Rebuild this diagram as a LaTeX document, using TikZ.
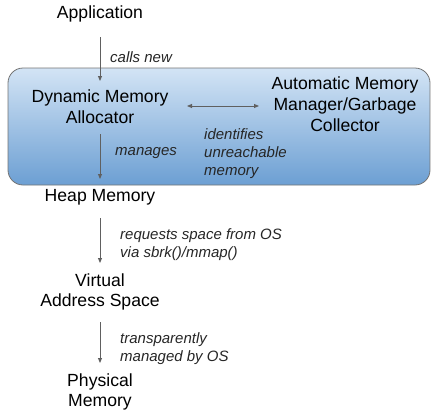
\documentclass[tikz,border=0pt]{standalone}
\usepackage{fontspec}
\setmainfont{Liberation Sans}
\usetikzlibrary{arrows.meta}
\definecolor{boxtop}{HTML}{D3E4F5}
\definecolor{boxbot}{HTML}{6C9FD3}
\definecolor{arr}{HTML}{606060}
\tikzset{
  lbl/.style={font=\fontsize{17.6}{20.8}\selectfont, align=center, inner sep=0pt},
  note/.style={font=\fontsize{15}{18}\selectfont\itshape, align=left, inner sep=0pt, text=black!85},
  conn/.style={draw=arr, line width=0.9pt, -{Triangle[length=5pt,width=4pt]}},
  conn2/.style={draw=arr, line width=0.9pt, {Triangle[length=5pt,width=4pt]}-{Triangle[length=5pt,width=4pt]}}
}
\begin{document}
\begin{tikzpicture}[x=1pt,y=-1pt]
\useasboundingbox (0,0) rectangle (431,413);
\shade[top color=boxtop, bottom color=boxbot, rounded corners=15pt] (8,68) rectangle (430,185);
\draw[draw=black!55, line width=0.8pt, rounded corners=15pt] (8,68) rectangle (430,185);

\node[lbl] (app) at (100,14) {Application};
\node[lbl] (dma) at (100,107) {Dynamic Memory\\Allocator};
\node[lbl] (gc) at (345,104) {Automatic Memory\\Manager/Garbage\\Collector};
\node[lbl] (heap) at (100,197) {Heap Memory};
\node[lbl] (vas) at (100,292) {Virtual\\Address Space};
\node[lbl] (phys) at (100,392) {Physical\\Memory};

\coordinate (a1s) at (100,37);
\coordinate (a1e) at (100,81);
\draw[conn] (a1s) -- (a1e);
\node[note, anchor=west] (callsnew) at (110,57) {calls new};

\coordinate (dbs) at (187,106);
\coordinate (dbe) at (259,106);
\draw[conn2] (dbs) -- (dbe);

\coordinate (a2s) at (100,134);
\coordinate (a2e) at (100,179);
\draw[conn] (a2s) -- (a2e);
\node[note, anchor=west] (manages) at (115,153) {manages};
\node[note, anchor=west] (ident) at (204,154) {identifies\\unreachable\\memory};

\coordinate (a3s) at (100,218);
\coordinate (a3e) at (100,263);
\draw[conn] (a3s) -- (a3e);
\node[note, anchor=west] (req) at (120,245) {requests space from OS\\via sbrk()/mmap()};

\coordinate (a4s) at (100,322);
\coordinate (a4e) at (100,363);
\draw[conn] (a4s) -- (a4e);
\node[note, anchor=west] (trans) at (120,349) {transparently\\managed by OS};
\end{tikzpicture}
\end{document}
